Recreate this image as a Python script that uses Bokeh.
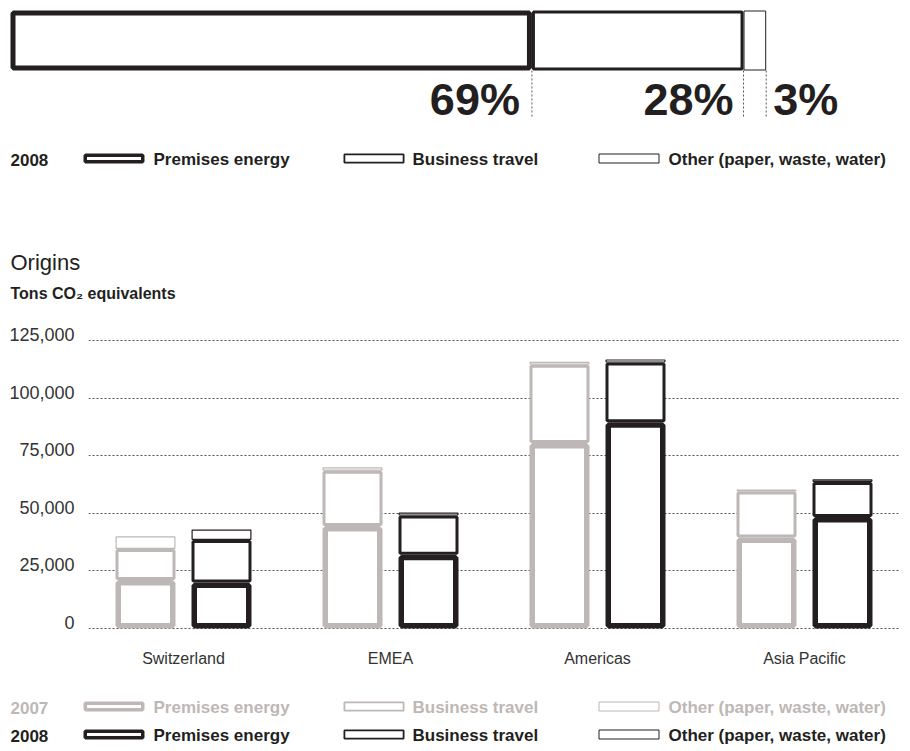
import numpy as np
from bokeh.plotting import figure
from bokeh.models import Range1d, FixedTicker, NumeralTickFormatter, LinearAxis, ColumnDataSource, Grid
from bokeh.layouts import column
from bokeh.embed import file_html
from bokeh.resources import INLINE
from bokeh.core.properties import value

# ---------------- data ----------------
regions = ["Switzerland", "EMEA", "Americas", "Asia Pacific"]
premises_2007 = [21000, 44500, 80500, 39500]
travel_2007 = [13500, 24000, 34000, 20000]
other_2007 = [5500, 1500, 1300, 800]
premises_2008 = [20000, 32000, 89500, 48400]
travel_2008 = [18400, 17000, 25900, 15200]
other_2008 = [4600, 1300, 1400, 1200]
shares_2008 = [69, 28, 3]
y_ticks = [0, 25000, 50000, 75000, 100000, 125000]
legend_labels = ["Premises energy", "Business travel", "Other (paper, waste, water)"]
years = ["2007", "2008"]

# ---------------- style ----------------
GRAY = "#bdb8b5"
BLACK = "#231f20"
TXT = "#333333"
GRIDC = "#555555"
FONT = "Liberation Sans"
SEG_LW = [5.5, 3.0, 1.2]
TOP_LW = [5.0, 3.0, 1.0]
SW_LW = [3.5, 1.8, 1.0]
W = 910
LEG_SIZE = "17px"


def base_fig(h, xr, yr):
    p = figure(width=W, height=h, x_range=xr, y_range=yr, x_axis_location=None,
               y_axis_location=None, toolbar_location=None, output_backend="svg",
               min_border=0, frame_align=False)
    p.grid.visible = False
    p.outline_line_color = None
    p.background_fill_color = "white"
    p.border_fill_color = "white"
    return p


# ---------------- top share bar ----------------
PX_PER_PCT = 755.7 / 100.0
f1 = base_fig(125, Range1d(-10 / PX_PER_PCT, (W - 10) / PX_PER_PCT), Range1d(125, 0))
edges = np.concatenate([[0], np.cumsum(shares_2008)]).astype(float)
for i in range(len(shares_2008)):
    lw = TOP_LW[i]
    ix = lw / 2 / PX_PER_PCT
    iy = lw / 2
    f1.quad(left=[edges[i] + ix], right=[edges[i + 1] - ix], top=[10 + iy], bottom=[70 - iy],
            fill_color="white", line_color=BLACK, line_width=lw)
f1.segment(x0=edges[1:], y0=[70] * 3, x1=edges[1:], y1=[116] * 3, line_color=GRIDC,
           line_width=1, line_dash="2 2")
src = ColumnDataSource(dict(x=edges[1:], text=[f"{s}%" for s in shares_2008],
                            dx=[-12, -10, 7], align=["right", "right", "left"]))
f1.text(x="x", y=99, text="text", x_offset="dx", text_align="align", source=src,
        text_font=value(FONT), text_font_style="bold", text_font_size="45px",
        text_color=BLACK, text_baseline="middle")


def draw_legend(fig, c, color, year):
    fig.text(x=[10], y=[c], text=[year], text_font=value(FONT), text_font_style="bold",
             text_font_size=LEG_SIZE, text_color=color, text_baseline="middle")
    sw_x = [83, 343, 598]
    txt_x = [153, 412, 668]
    for i in range(3):
        lw = SW_LW[i]
        fig.quad(left=[sw_x[i] + lw / 2], right=[sw_x[i] + 61 - lw / 2],
                 top=[c - 6 + lw / 2], bottom=[c + 4 - lw / 2],
                 fill_color="white", line_color=color, line_width=lw)
        fig.text(x=[txt_x[i]], y=[c], text=[legend_labels[i]], text_font=value(FONT),
                 text_font_style="bold", text_font_size=LEG_SIZE, text_color=color,
                 text_baseline="middle")


# ---------------- legend 2008 + headings ----------------
f2 = base_fig(180, Range1d(0, W), Range1d(180, 0))
draw_legend(f2, 34, BLACK, "2008")
f2.text(x=[10], y=[137], text=["Origins"], text_font=value(FONT), text_font_size="22px",
        text_color="#222222", text_baseline="middle")
f2.text(x=[10], y=[168], text=["Tons CO₂ equivalents"], text_font=value(FONT),
        text_font_style="bold", text_font_size="16px", text_color=BLACK,
        text_baseline="middle")

# ---------------- main chart ----------------
GROUP_PX = 207.0
FIRST_PX = 95.0
FRAME_W = 812
X_PER_PX = 1.0 / GROUP_PX
Y_PER_PX = 125000.0 / 288.0
pad = 6 * Y_PER_PX
shift = 6 * Y_PER_PX

f3 = figure(width=W, height=385,
            x_range=Range1d(-FIRST_PX / GROUP_PX, (FRAME_W - FIRST_PX) / GROUP_PX),
            y_range=Range1d(-pad, 125000 + pad), y_axis_location=None,
            toolbar_location=None, output_backend="svg", frame_align=False,
            min_border_left=88, min_border_right=10, min_border_top=29, min_border_bottom=56)
f3.outline_line_color = None
f3.background_fill_color = "white"
f3.border_fill_color = "white"
f3.xgrid.visible = False
if len(f3.ygrid) == 0:
    f3.add_layout(Grid(dimension=1, ticker=FixedTicker(ticks=y_ticks)))
f3.ygrid.ticker = FixedTicker(ticks=y_ticks)
f3.ygrid.grid_line_color = GRIDC
f3.ygrid.grid_line_width = 1
f3.ygrid.grid_line_dash = "2 2"

f3.extra_y_ranges = {"lbl": Range1d(-pad - shift, 125000 + pad - shift + 1)}
yax = LinearAxis(y_range_name="lbl", ticker=FixedTicker(ticks=y_ticks),
                 formatter=NumeralTickFormatter(format="0,0"))
yax.axis_line_color = None
yax.major_tick_line_color = None
yax.minor_tick_line_color = None
yax.major_tick_in = 0
yax.major_tick_out = 0
yax.major_label_standoff = 14
yax.major_label_text_font = FONT
yax.major_label_text_font_size = "18px"
yax.major_label_text_color = TXT
f3.add_layout(yax, "left")

xax = f3.xaxis[0]
xax.ticker = FixedTicker(ticks=list(range(len(regions))))
xax.major_label_overrides = {i: r for i, r in enumerate(regions)}
xax.axis_line_color = None
xax.major_tick_line_color = None
xax.minor_tick_line_color = None
xax.major_label_standoff = 9
xax.major_label_text_font = FONT
xax.major_label_text_font_size = "16px"
xax.major_label_text_color = TXT

xs = np.arange(len(regions), dtype=float)
half = 30 * X_PER_PX
series = [
    (premises_2007, travel_2007, other_2007, GRAY, -38 * X_PER_PX),
    (premises_2008, travel_2008, other_2008, BLACK, 38 * X_PER_PX),
]
for prem, trav, oth, color, off in series:
    bottom = np.zeros(len(regions))
    for k, seg in enumerate([prem, trav, oth]):
        top = bottom + np.array(seg, dtype=float)
        lw = SEG_LW[k]
        ix = lw / 2 * X_PER_PX
        iy = lw / 2 * Y_PER_PX
        f3.quad(left=xs + off - half + ix, right=xs + off + half - ix,
                bottom=bottom + iy, top=top - iy, fill_color="white",
                line_color=color, line_width=lw)
        bottom = top

# ---------------- bottom legend ----------------
f4 = base_fig(61, Range1d(0, W), Range1d(61, 0))
draw_legend(f4, 17, GRAY, "2007")
draw_legend(f4, 45, BLACK, "2008")

layout = column(f1, f2, f3, f4, spacing=0)
open("out.html", "w").write(file_html(layout, INLINE))
